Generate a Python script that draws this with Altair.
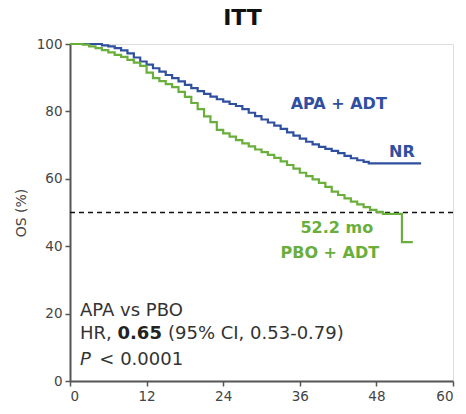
import altair as alt
import pandas as pd

# Kaplan-Meier curves (months, OS %)
apa_months = [0, 5, 6, 7, 8, 9, 10, 11, 12, 13, 14, 15, 16, 17, 18, 19, 20, 21, 22, 23, 24, 25, 26, 27, 28, 29, 30,
              31, 32, 33, 34, 35, 36, 37, 38, 39, 40, 41, 42, 43, 44, 45, 46, 46.8, 55]
apa_values = [100, 99.6, 99.3, 98.8, 98.1, 97.2, 96.0, 94.8, 93.9, 92.8, 91.8, 90.8, 89.9, 88.9, 87.9, 86.9, 86.0,
              85.2, 84.4, 83.6, 82.9, 82.2, 81.6, 80.7, 79.6, 78.6, 77.6, 76.7, 75.8, 74.8, 73.8, 72.8, 71.9, 71.0,
              70.2, 69.5, 68.9, 68.3, 67.6, 66.8, 66.1, 65.5, 65.0, 64.6, 64.6]

pbo_months = [0, 2, 3, 4, 5, 6, 7, 8, 9, 10, 11, 12, 13, 14, 15, 16, 17, 18, 19, 20, 21, 22, 23, 24, 25, 26, 27, 28,
              29, 30, 31, 32, 33, 34, 35, 36, 37, 38, 39, 40, 41, 42, 43, 44, 45, 46, 47, 48, 49, 52, 53.7]
pbo_values = [100, 99.8, 99.3, 98.8, 98.2, 97.5, 96.8, 96.2, 95.3, 94.5, 93.5, 91.5, 89.9, 89.0, 88.1, 87.2, 85.8,
              84.3, 82.5, 80.7, 78.5, 76.8, 74.5, 73.5, 72.5, 71.5, 70.5, 69.6, 68.7, 67.9, 67.1, 66.2, 65.2, 64.1,
              63.0, 61.8, 60.8, 59.8, 58.8, 57.6, 56.2, 55.2, 54.2, 53.2, 52.4, 51.6, 50.8, 50.2, 49.6, 41.2, 41.2]

median_line = 50
x_ticks = [0, 12, 24, 36, 48, 60]
y_ticks = [0, 20, 40, 60, 80, 100]

BLUE = "#2f4f9f"
GREEN = "#6aae3c"
FONT = "DejaVu Sans"

km = pd.concat([
    pd.DataFrame({"month": apa_months, "os": apa_values, "arm": "APA + ADT"}),
    pd.DataFrame({"month": pbo_months, "os": pbo_values, "arm": "PBO + ADT"}),
])

xs = alt.Scale(domain=[0, 60], nice=False, zero=False)
ys = alt.Scale(domain=[0, 100], nice=False)
cs = alt.Scale(domain=["APA + ADT", "PBO + ADT"], range=[BLUE, GREEN])

lines = alt.Chart(km).mark_line(interpolate="step-after", strokeWidth=2.2).encode(
    x=alt.X("month:Q", scale=xs,
            axis=alt.Axis(values=x_ticks, title=None, grid=False, domainColor="#555", domainWidth=2,
                          tickColor="#555", tickWidth=1.5, tickSize=5, labelFontSize=13.5,
                          labelColor="#444", labelFont=FONT, labelPadding=3)),
    y=alt.Y("os:Q", scale=ys,
            axis=alt.Axis(values=y_ticks, title="OS (%)", grid=False, domainColor="#555", domainWidth=2,
                          tickColor="#555", tickWidth=1.5, tickSize=5, labelFontSize=13.5,
                          labelColor="#444", labelFont=FONT, labelPadding=3,
                          titleFont=FONT, titleFontSize=14, titleFontWeight="normal",
                          titleColor="#444", titlePadding=8)),
    color=alt.Color("arm:N", scale=cs, legend=None),
)

rule = alt.Chart(pd.DataFrame({"y": [median_line]})).mark_rule(
    color="#111", strokeDash=[5, 4], strokeWidth=1.5
).encode(y=alt.Y("y:Q", scale=ys))

arm_labels = pd.DataFrame({
    "month": [42.1, 52.0, 41.8, 40.7],
    "os": [82.2, 68.0, 45.5, 38.0],
    "text": ["APA + ADT", "NR", "52.2 mo", "PBO + ADT"],
    "arm": ["APA + ADT", "APA + ADT", "PBO + ADT", "PBO + ADT"],
})
arm_text = alt.Chart(arm_labels).mark_text(font=FONT, fontSize=16, fontWeight="bold").encode(
    x=alt.X("month:Q", scale=xs), y=alt.Y("os:Q", scale=ys), text="text:N",
    color=alt.Color("arm:N", scale=cs, legend=None),
)

stat_plain = pd.DataFrame({
    "month": [1.57, 1.57, 15.35, 4.6],
    "os": [20.8, 13.9, 13.9, 6.2],
    "text": ["APA vs PBO", "HR,", "(95% CI, 0.53-0.79)", "< 0.0001"],
})
stat_text = alt.Chart(stat_plain).mark_text(font=FONT, fontSize=18, align="left", color="#333").encode(
    x=alt.X("month:Q", scale=xs), y=alt.Y("os:Q", scale=ys), text="text:N")

stat_bold = alt.Chart(pd.DataFrame({"month": [7.44], "os": [13.9], "text": ["0.65"]})).mark_text(
    font=FONT, fontSize=18, align="left", fontWeight="bold", color="#222"
).encode(x=alt.X("month:Q", scale=xs), y=alt.Y("os:Q", scale=ys), text="text:N")

stat_ital = alt.Chart(pd.DataFrame({"month": [1.57], "os": [6.2], "text": ["P"]})).mark_text(
    font=FONT, fontSize=18, align="left", fontStyle="italic", color="#333"
).encode(x=alt.X("month:Q", scale=xs), y=alt.Y("os:Q", scale=ys), text="text:N")

chart = alt.layer(rule, lines, arm_text, stat_text, stat_bold, stat_ital).properties(
    width=383, height=337,
    title=alt.TitleParams("ITT", font=FONT, fontSize=22, fontWeight="bold", color="#111",
                          anchor="middle", offset=7, dx=-19),
    autosize=alt.AutoSizeParams(type="none"),
    padding={"left": 70, "top": 44, "right": 13, "bottom": 33},
).configure_view(stroke=None).configure(background="white")

chart.save("out.html", embed_options={"renderer": "svg", "actions": False})
